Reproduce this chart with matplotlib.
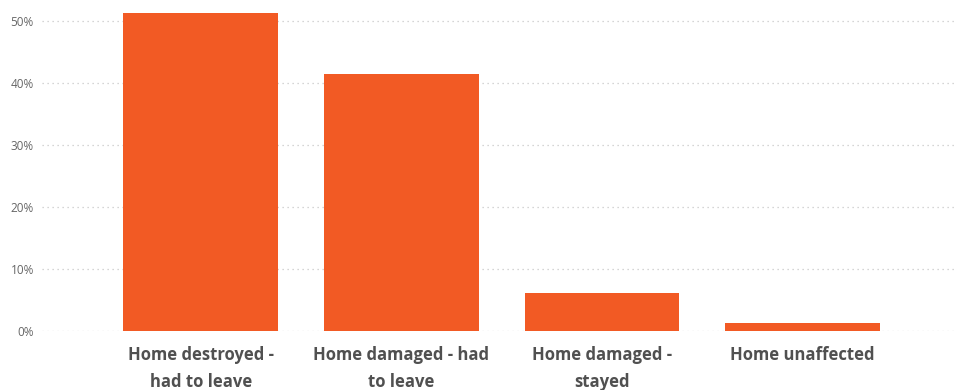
import matplotlib.pyplot as plt
from matplotlib.ticker import FuncFormatter

categories = ["Home destroyed -\nhad to leave", "Home damaged - had\nto leave",
              "Home damaged -\nstayed", "Home unaffected"]
values = [51.3, 41.5, 6.1, 1.3]
yticks = [0, 10, 20, 30, 40, 50]

plt.rcParams['font.family'] = ['Open Sans', 'DejaVu Sans']

fig = plt.figure(figsize=(9.58, 3.9), dpi=100)
ax = fig.add_axes([0.044, 0.1513, 0.953, 0.842])

x = range(len(categories))
ax.bar(x, values, width=0.77, color="#F25A24", zorder=2)

ax.set_xlim(-0.79, 3.76)
ax.set_ylim(0, 53)
ax.set_yticks(yticks)
ax.yaxis.set_major_formatter(FuncFormatter(lambda v, p: f"{v:.0f}%"))
ax.grid(axis="y", linestyle=(0, (1, 3)), color="#c8c8c8", linewidth=0.9, zorder=0)

ax.set_xticks(list(x))
ax.set_xticklabels(categories, fontsize=12, fontweight="bold", color="#505050",
                   linespacing=1.6)
ax.tick_params(axis="x", length=0, pad=11)
ax.tick_params(axis="y", length=0, labelsize=8.5, labelcolor="#666666", pad=6)

for s in ax.spines.values():
    s.set_visible(False)

fig.savefig("out.png", dpi=100)
